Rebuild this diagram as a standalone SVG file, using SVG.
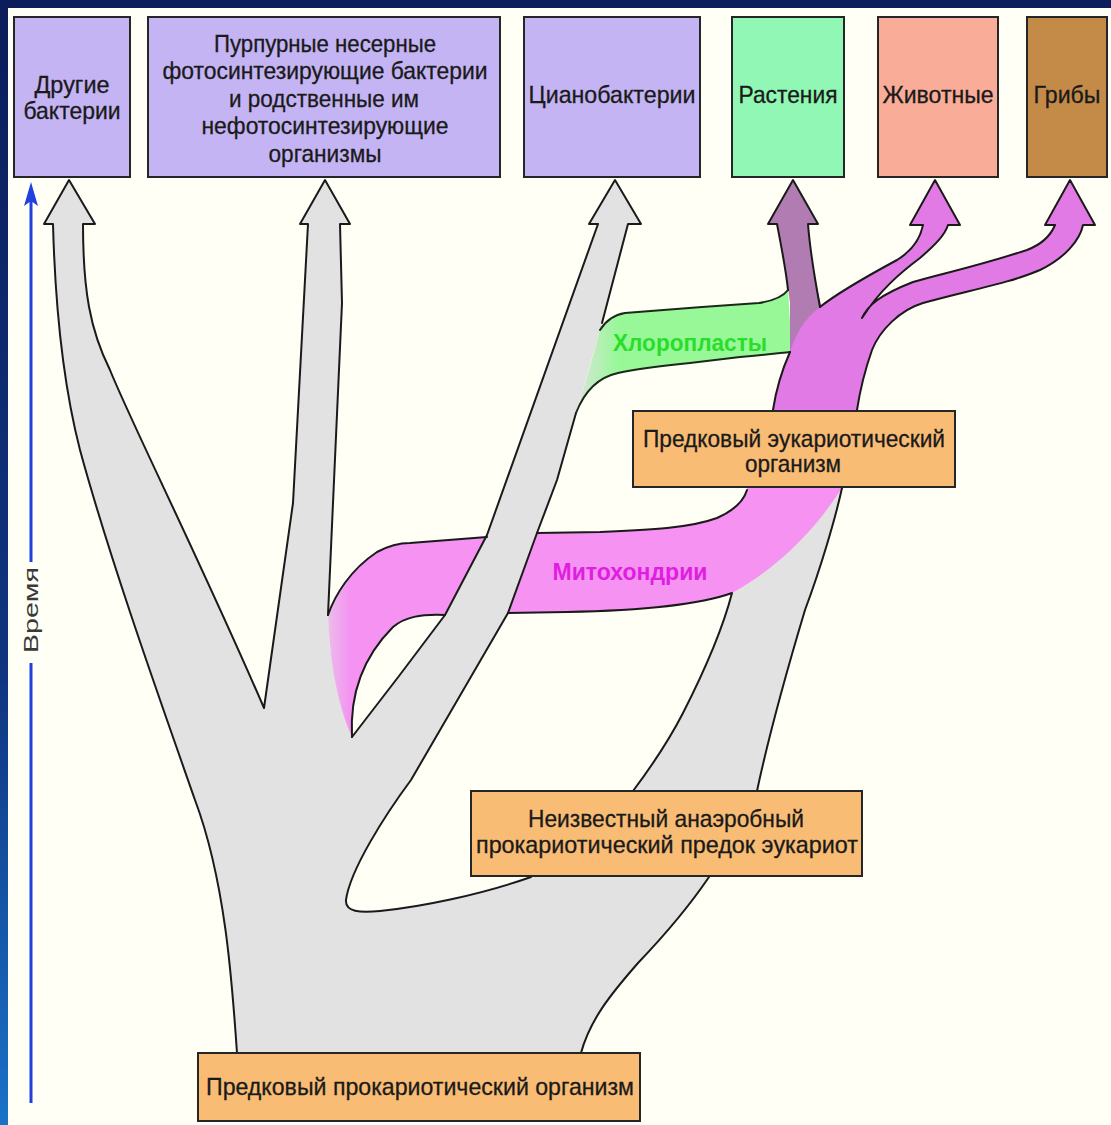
<svg xmlns="http://www.w3.org/2000/svg" width="1111" height="1125" viewBox="0 0 1111 1125">
<defs>
<linearGradient id="frameG" x1="0" y1="0" x2="0" y2="1">
<stop offset="0" stop-color="#0b1d5a"/>
<stop offset="0.6" stop-color="#0f3580"/>
<stop offset="1" stop-color="#1a72c8"/>
</linearGradient>
<linearGradient id="greenG" gradientUnits="userSpaceOnUse" x1="572" y1="0" x2="618" y2="0">
<stop offset="0" stop-color="#e2e2e2"/>
<stop offset="1" stop-color="#98f898"/>
</linearGradient>
<linearGradient id="mitoG" gradientUnits="userSpaceOnUse" x1="322" y1="0" x2="350" y2="0">
<stop offset="0" stop-color="#e8c8e8"/>
<stop offset="1" stop-color="#f592f2"/>
</linearGradient>
<style>
.ln{fill:none;stroke:#1a1a1a;stroke-width:2;stroke-linejoin:round;stroke-linecap:round}
.gln{fill:none;stroke:#1a2a1a;stroke-width:2;stroke-linejoin:round;stroke-linecap:round}
.box{stroke:#262626;stroke-width:2}
.lav{fill:#c4b4f4}
.org{fill:#f9bc74}
.t{font-family:"Liberation Sans",Arial,sans-serif;font-size:24px;fill:#1a1a1a;stroke:#1a1a1a;stroke-width:0.3;text-anchor:middle}
.b{font-weight:bold;stroke:none}
</style>
</defs>

<!-- background and frame -->
<rect x="0" y="0" width="1111" height="1125" fill="url(#frameG)"/>
<rect x="0" y="0" width="1111" height="8" fill="#0b1d5a"/>
<rect x="8" y="8" width="1103" height="1117" fill="#fffff6"/>

<!-- branches (connectors) -->
<g id="connectors">
<!-- gray prokaryote tree -->
<path fill="#e2e2e2" d="M237,1053 C232,980 225,880 195,800 C160,700 110,560 80,450 C62,380 55,300 53,224 L44,224 L69,180 L95,224 L83,224 C83,290 90,330 110,370 C130,420 200,560 264,708 L293,503 L308,224 L300,224 L325,180 L350,224 L340,224 L342,303 L333,503 L328,615 L330,647 L340,697 L352,737 L399,676 L445,615 L487,535 L598,224 L589,224 L615,180 L641,224 L628,224 L602,323 L576,413 L557,480 L537,533 L508,613 L411,780 C385,815 350,870 346,900 C345,912 360,913 380,911 C420,907 480,895 531,877 L633,791 C645,775 665,748 683,713 C710,660 725,620 732,593 L747,490 L750,470 L840,470 L842,488 C835,520 820,570 805,610 C790,660 770,730 757,791 L709,877 C690,905 660,940 638,963 C610,995 590,1020 581,1053 Z"/>
<!-- chloroplasts -->
<path fill="url(#greenG)" d="M600,330 C605,322 612,315 625,313 L702,307 L759,303 C772,301 782,298 788,290 L792,352 C780,353 765,355 740,357 L690,363 C660,366 640,368 618,373 C595,378 583,395 576,413 L590,366 Z"/>
<!-- plants branch -->
<path fill="#b07cb2" d="M777,224 L768,224 L793,180 L818,224 L808,224 C810,250 815,280 822,310 L830,345 L790,356 L790,303 C786,270 782,250 777,224 Z"/>
<!-- mitochondria band -->
<path fill="url(#mitoG)" d="M328,615 C335,595 350,570 377,552 C390,545 400,543 410,543 L487,537 L537,533 L600,532 C650,530 690,528 717,518 C735,510 744,500 747,490 L750,470 L840,470 L842,488 C815,530 778,568 732,593 C690,608 620,611 567,612 L508,613 L445,615 C420,614 405,617 393,627 C360,660 350,700 352,737 C340,710 330,670 328,615 Z"/>
<!-- eukaryote branch -->
<path fill="#e27ae6" d="M773,410 C776,390 782,370 790,352 C795,335 805,318 820,307 C835,295 860,280 897,260 C910,252 920,240 923,225 L910,225 L935,180 L960,225 L948,225 C945,235 935,245 920,258 C900,273 880,290 862,318 C868,305 880,295 913,282 C940,274 975,267 1027,250 C1040,245 1050,237 1055,225 L1045,225 L1070,180 L1095,225 L1083,225 C1080,240 1065,258 1040,270 C1010,283 970,290 923,303 C900,310 880,330 872,350 C865,370 860,390 857,410 Z"/>
<!-- cyanobacteria branch crossing over mitochondria -->
<path fill="#e2e2e2" d="M510,470 L560,470 L537,533 L508,613 L481,660 L411,660 L445,615 L487,535 Z"/>

<!-- outlines -->
<path class="ln" d="M237,1053 C232,980 225,880 195,800 C160,700 110,560 80,450 C62,380 55,300 53,224 L44,224 L69,180 L95,224 L83,224 C83,290 90,330 110,370 C130,420 200,560 264,708 L293,503 L308,224 L300,224 L325,180 L350,224 L340,224 L342,303 L333,503 L328,615"/>
<path class="ln" d="M328,615 C335,595 350,570 377,552 C390,545 400,543 410,543 L487,537"/>
<path class="ln" d="M352,737 L399,676 L445,615 L487,535 L598,224 L589,224 L615,180 L641,224 L628,224 L602,323"/>
<path class="ln" d="M576,413 L557,480 L537,533 L508,613 L411,780 C385,815 350,870 346,900 C345,912 360,913 380,911 C420,907 480,895 531,877"/>
<path class="ln" d="M352,737 C350,700 360,660 393,627 C405,617 420,614 445,615"/>
<path class="ln" d="M537,533 L600,532 C650,530 690,528 717,518 C735,510 744,500 747,490"/>
<path class="ln" d="M508,613 L567,612 C620,611 690,608 732,593 C725,620 710,660 683,713 C665,748 645,775 633,791"/>
<path class="ln" d="M842,488 C835,520 820,570 805,610 C790,660 770,730 757,791"/>
<path class="ln" d="M709,877 C690,905 660,940 638,963 C610,995 590,1020 581,1053"/>
<path class="gln" d="M600,330 C605,322 612,315 625,313 L702,307 L759,303 C772,301 782,298 788,290"/>
<path class="gln" d="M576,413 C583,395 595,378 618,373 C640,368 660,366 690,363 L740,357 C765,355 780,353 790,352"/>
<path class="ln" d="M788,290 C786,270 782,250 777,224 L768,224 L793,180 L818,224 L808,224 C810,250 815,280 820,307"/>
<path class="ln" d="M773,410 C776,390 782,370 790,352"/>
<path class="ln" d="M820,307 C835,295 860,280 897,260 C910,252 920,240 923,225 L910,225 L935,180 L960,225 L948,225 C945,235 935,245 920,258 C900,273 880,290 862,318 C868,305 880,295 913,282 C940,274 975,267 1027,250 C1040,245 1050,237 1055,225 L1045,225 L1070,180 L1095,225 L1083,225 C1080,240 1065,258 1040,270 C1010,283 970,290 923,303 C900,310 880,330 872,350 C865,370 860,390 857,410"/>

<text class="t b" x="690" y="351" textLength="154" lengthAdjust="spacingAndGlyphs" style="fill:#2bdd2b">Хлоропласты</text>
<text class="t b" x="630" y="580" textLength="155" lengthAdjust="spacingAndGlyphs" style="fill:#e01ee0">Митохондрии</text>
</g>

<!-- top nodes -->
<g id="other-bacteria">
<rect class="box lav" x="14" y="17" width="116" height="160"/>
<text class="t" x="72" y="93" textLength="75" lengthAdjust="spacingAndGlyphs">Другие</text>
<text class="t" x="72" y="119" textLength="97" lengthAdjust="spacingAndGlyphs">бактерии</text>
</g>
<g id="purple-bacteria">
<rect class="box lav" x="148" y="17" width="352" height="160"/>
<text class="t" x="325" y="52" textLength="222" lengthAdjust="spacingAndGlyphs">Пурпурные несерные</text>
<text class="t" x="325" y="79" textLength="325" lengthAdjust="spacingAndGlyphs">фотосинтезирующие бактерии</text>
<text class="t" x="324" y="107" textLength="190" lengthAdjust="spacingAndGlyphs">и родственные им</text>
<text class="t" x="325" y="134" textLength="247" lengthAdjust="spacingAndGlyphs">нефотосинтезирующие</text>
<text class="t" x="325" y="162" textLength="113" lengthAdjust="spacingAndGlyphs">организмы</text>
</g>
<g id="cyanobacteria">
<rect class="box lav" x="524" y="17" width="176" height="160"/>
<text class="t" x="612" y="103" textLength="167" lengthAdjust="spacingAndGlyphs">Цианобактерии</text>
</g>
<g id="plants">
<rect class="box" x="732" y="17" width="112" height="160" fill="#90f8b4"/>
<text class="t" x="788" y="103" textLength="99" lengthAdjust="spacingAndGlyphs">Растения</text>
</g>
<g id="animals">
<rect class="box" x="878" y="17" width="120" height="160" fill="#f9ac98"/>
<text class="t" x="938" y="103" textLength="111" lengthAdjust="spacingAndGlyphs">Животные</text>
</g>
<g id="fungi">
<rect class="box" x="1027" y="17" width="80" height="160" fill="#c48a48"/>
<text class="t" x="1067" y="103" textLength="67" lengthAdjust="spacingAndGlyphs">Грибы</text>
</g>

<!-- orange nodes -->
<g id="ancestral-eukaryote">
<rect class="box org" x="633" y="411" width="322" height="76"/>
<text class="t" x="794" y="447" textLength="302" lengthAdjust="spacingAndGlyphs">Предковый эукариотический</text>
<text class="t" x="793" y="472" textLength="96" lengthAdjust="spacingAndGlyphs">организм</text>
</g>
<g id="anaerobic-ancestor">
<rect class="box org" x="471" y="791" width="391" height="85"/>
<text class="t" x="666" y="827" textLength="276" lengthAdjust="spacingAndGlyphs">Неизвестный анаэробный</text>
<text class="t" x="667" y="853" textLength="382" lengthAdjust="spacingAndGlyphs">прокариотический предок эукариот</text>
</g>
<g id="ancestral-prokaryote">
<rect class="box org" x="198" y="1053" width="442" height="68"/>
<text class="t" x="420" y="1095" textLength="428" lengthAdjust="spacingAndGlyphs">Предковый прокариотический организм</text>
</g>

<!-- time axis -->
<g id="time-axis">
<line x1="31" y1="1103" x2="31" y2="663" stroke="#2040e0" stroke-width="3"/>
<line x1="31" y1="562" x2="31" y2="198" stroke="#2040e0" stroke-width="3"/>
<path d="M31,182 L38,206 L31,201 L24,206 Z" fill="#2040e0"/>
<text transform="translate(38,610) rotate(-90)" x="0" y="0" textLength="86" lengthAdjust="spacingAndGlyphs" style="font-family:'Liberation Sans',Arial,sans-serif;font-size:21px;fill:#3a3a3a;text-anchor:middle">Время</text>
</g>
</svg>
